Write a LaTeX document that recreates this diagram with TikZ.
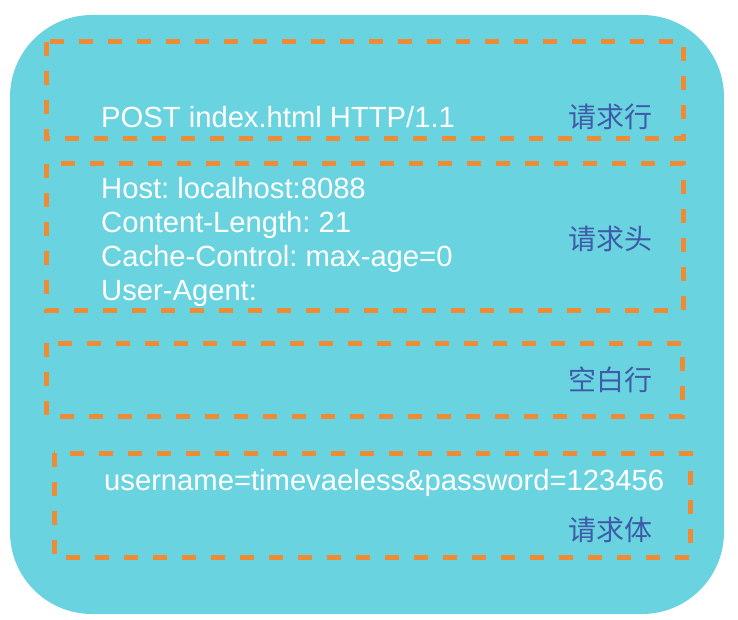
\documentclass[tikz,border=0pt]{standalone}
\usepackage{fontspec}
\setmainfont{Liberation Sans}
\newfontfamily\cjk{Noto Sans CJK SC}
\frenchspacing
\definecolor{bgcyan}{HTML}{69D4E0}
\definecolor{dashorange}{HTML}{EF8A35}
\definecolor{labelblue}{HTML}{3F5AA8}
\tikzset{
  part/.style={draw=dashorange, line width=5pt, dash pattern=on 14pt off 15pt},
  line/.style={text=white, font=\fontsize{29.2}{33.7}\selectfont, anchor=base west, align=left, inner sep=0pt},
  tag/.style={text=labelblue, font=\cjk\fontsize{28}{30}\selectfont, anchor=base west, inner sep=0pt}
}
\begin{document}
\begin{tikzpicture}[x=1pt, y=-1pt]
    \useasboundingbox (0,0) rectangle (738,620);

	% Background
	\fill[bgcyan, rounded corners=82pt] (10,15) rectangle (724,614);

	% Request line
	\draw[part] (46,42) rectangle (683,139);
	\node[line] (reqline) at (101,128) {POST index.html HTTP/1.1};
	\node[tag] (reqlinetag) at (568,128) {请求行};

	% Headers
	\draw[part] (46,164) rectangle (683,310);
	\node[line] (headers) at (101,300) {Host: localhost:8088\\Content-Length: 21\\Cache-Control: max-age=0\\User-Agent:};
	\node[tag] (headerstag) at (568,249) {请求头};

	% Blank line
	\draw[part] (46,343) rectangle (682,416);
	\node[tag] (blanktag) at (568,390) {空白行};

	% Body
	\draw[part] (54,453) rectangle (690,557);
	\node[line] (body) at (104,490) {username=timevaeless\&password=123456};
	\node[tag] (bodytag) at (568,540) {请求体};

\end{tikzpicture}
\end{document}
